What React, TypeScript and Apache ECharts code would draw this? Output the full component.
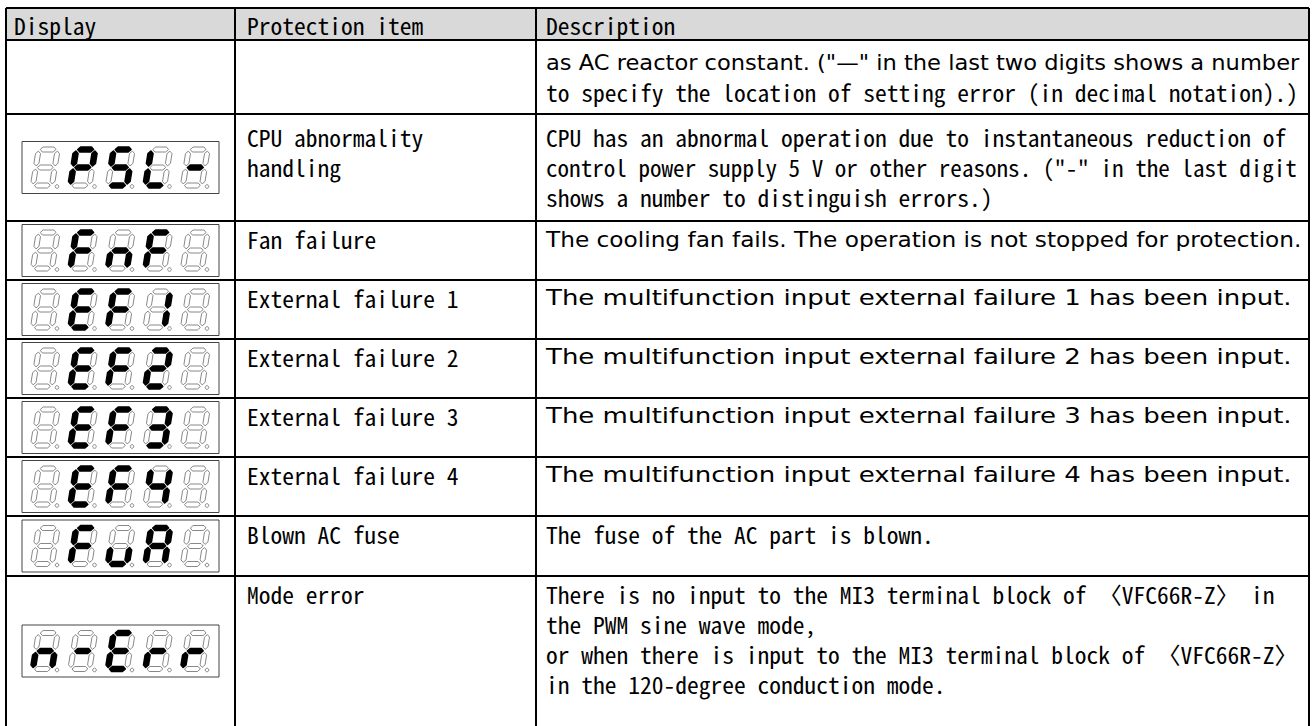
import React, { useEffect, useRef } from "react";
import * as echarts from "echarts";

// ---------- data ----------
const headers = ["Display", "Protection item", "Description"];

const displayCodes = ["", " PSL-", " FnF ", " EF1 ", " EF2 ", " EF3 ", " EF4 ", " FuA ", "n-Err"];

const protectionItems = [
  [],
  ["CPU abnormality", "handling"],
  ["Fan failure"],
  ["External failure 1"],
  ["External failure 2"],
  ["External failure 3"],
  ["External failure 4"],
  ["Blown AC fuse"],
  ["Mode error"],
];

const descriptions = [
  [
    'as AC reactor constant. ("—" in the last two digits shows a number',
    "to specify the location of setting error (in decimal notation).)",
  ],
  [
    "CPU has an abnormal operation due to instantaneous reduction of",
    'control power supply 5 V or other reasons. ("-" in the last digit',
    "shows a number to distinguish errors.)",
  ],
  ["The cooling fan fails. The operation is not stopped for protection."],
  ["The multifunction input external failure 1 has been input."],
  ["The multifunction input external failure 2 has been input."],
  ["The multifunction input external failure 3 has been input."],
  ["The multifunction input external failure 4 has been input."],
  ["The fuse of the AC part is blown."],
  [
    "There is no input to the MI3 terminal block of 〈VFC66R-Z〉 in",
    "the PWM sine wave mode,",
    "or when there is input to the MI3 terminal block of 〈VFC66R-Z〉",
    "in the 120-degree conduction mode.",
  ],
];

// ---------- layout ----------
const MONO = "'Noto Sans Mono CJK JP', 'DejaVu Sans Mono', monospace";
const PROP = "'DejaVu Sans', 'Noto Sans', sans-serif";
const MONO_SIZE = 23;
const PROP_SIZE = 22;
const CHAR_W = 11.75;
const LINE_H = 30;

const COLS = [6, 235, 536, 1309];
const TABLE_TOP = 8;
const ROW_BOUNDS = [40, 114, 221, 280, 339, 398, 457, 516, 576, 800];
// fitted lines: key "row-line" -> [font, right end x]
const FIT: Record<string, [string, number]> = {
  "0-0": [PROP, 1300],
  "1-1": [MONO, 1297],
  "2-0": [PROP, 1302],
  "3-0": [PROP, 1292],
  "4-0": [PROP, 1292],
  "5-0": [PROP, 1292],
  "6-0": [PROP, 1292],
};

const SEG: Record<string, string> = {
  " ": "",
  P: "abefg",
  S: "acdfg",
  L: "def",
  "-": "g",
  F: "aefg",
  n: "ceg",
  E: "adefg",
  "1": "bc",
  "2": "abdeg",
  "3": "abcdg",
  "4": "bcfg",
  u: "cde",
  A: "abcefg",
  r: "eg",
};

let ctx: CanvasRenderingContext2D | null = null;
function measure(s: string, fam: string, size: number) {
  if (!ctx) ctx = document.createElement("canvas").getContext("2d");
  ctx!.font = `${size}px ${fam}`;
  return ctx!.measureText(s).width;
}
function units(s: string) {
  let u = 0;
  for (const ch of s) {
    const c = ch.codePointAt(0)!;
    u += c >= 0x2e80 || c === 0x2014 ? 2 : 1;
  }
  return u;
}

function textEl(s: string, x: number, y: number, fam: string, targetW: number) {
  const size = fam === PROP ? PROP_SIZE : MONO_SIZE;
  const w = measure(s, fam, size);
  const sx = w > 0 ? targetW / w : 1;
  return {
    type: "text",
    x,
    y,
    scaleX: sx,
    silent: true,
    style: {
      text: s,
      x: 0,
      y: 0,
      fontSize: size,
      fontFamily: fam,
      fill: "#000",
      align: "left",
      verticalAlign: "middle",
    },
  };
}

function monoText(s: string, x: number, y: number) {
  return textEl(s, x, y, MONO, units(s) * CHAR_W);
}

function digitEls(ox: number, oy: number, ch: string) {
  const W = 24,
    H = 41,
    t = 5,
    g = 1.6,
    k = 0.16;
  const sh = (x: number, y: number) => [ox + x + (H - y) * k, oy + y];
  const hor = (yc: number) => {
    const xa = t / 2 + g,
      xb = W - t / 2 - g;
    return [
      sh(xa, yc),
      sh(xa + t / 2, yc - t / 2),
      sh(xb - t / 2, yc - t / 2),
      sh(xb, yc),
      sh(xb - t / 2, yc + t / 2),
      sh(xa + t / 2, yc + t / 2),
    ];
  };
  const ver = (xc: number, ya: number, yb: number) => [
    sh(xc, ya),
    sh(xc + t / 2, ya + t / 2),
    sh(xc + t / 2, yb - t / 2),
    sh(xc, yb),
    sh(xc - t / 2, yb - t / 2),
    sh(xc - t / 2, ya + t / 2),
  ];
  const segs: Record<string, number[][]> = {
    a: hor(t / 2),
    g: hor(H / 2),
    d: hor(H - t / 2),
    f: ver(t / 2, t / 2 + g, H / 2 - g),
    e: ver(t / 2, H / 2 + g, H - t / 2 - g),
    b: ver(W - t / 2, t / 2 + g, H / 2 - g),
    c: ver(W - t / 2, H / 2 + g, H - t / 2 - g),
  };
  const on = SEG[ch] || "";
  const els: any[] = [];
  for (const key of "abcdefg") {
    const active = on.includes(key);
    els.push({
      type: "polygon",
      silent: true,
      shape: { points: segs[key] },
      style: active
        ? { fill: "#000", stroke: "#000", lineWidth: 1.6, lineJoin: "round" }
        : { fill: "#fff", stroke: "#7a7a7a", lineWidth: 0.9 },
    });
  }
  els.push({
    type: "circle",
    silent: true,
    shape: { cx: ox + W + 3, cy: oy + H - 1.5, r: 1.8 },
    style: { fill: "#fff", stroke: "#7a7a7a", lineWidth: 0.9 },
  });
  return els;
}

function buildGraphic() {
  const els: any[] = [];
  const [c0, c1, c2, c3] = COLS;
  const headerBottom = ROW_BOUNDS[0];
  // header
  els.push({
    type: "rect",
    silent: true,
    shape: { x: c0, y: TABLE_TOP, width: c3 - c0, height: headerBottom - TABLE_TOP },
    style: { fill: "#d9d9d9" },
  });
  const hy = (TABLE_TOP + headerBottom) / 2 + 1;
  const pads = [8, 12, 10];
  headers.forEach((h, i) => els.push(monoText(h, COLS[i] + pads[i], hy)));

  // rows
  for (let r = 0; r < descriptions.length; r++) {
    const top = ROW_BOUNDS[r];
    const bottom = ROW_BOUNDS[r + 1];
    const lines = descriptions[r];
    let firstY: number;
    if (r <= 1) {
      const mid = (top + bottom) / 2;
      firstY = mid - ((lines.length - 1) * LINE_H) / 2;
    } else {
      firstY = top + 18;
    }
    lines.forEach((ln, li) => {
      const y = firstY + li * LINE_H;
      const fit = FIT[`${r}-${li}`];
      const x = c2 + 10;
      if (fit) els.push(textEl(ln, x, y, fit[0], fit[1] - x));
      else els.push(monoText(ln, x, y));
    });
    protectionItems[r].forEach((ln, li) => {
      els.push(monoText(ln, c1 + 12, firstY + li * LINE_H));
    });
    // display
    const code = displayCodes[r];
    if (code) {
      const bh = 52,
        bw = 197,
        bx = 22;
      const cy = r === descriptions.length - 1 ? top + 75 : (top + bottom) / 2;
      const by = cy - bh / 2;
      els.push({
        type: "rect",
        silent: true,
        shape: { x: bx, y: by, width: bw, height: bh },
        style: { fill: "#fff", stroke: "#444", lineWidth: 1 },
      });
      for (let i = 0; i < 5; i++) {
        els.push(...digitEls(bx + 8 + i * 37.5, by + 5.5, code[i] || " "));
      }
    }
  }

  // grid lines
  const line = (x1: number, y1: number, x2: number, y2: number, w: number) => ({
    type: "line",
    silent: true,
    shape: { x1, y1, x2, y2 },
    style: { stroke: "#000", lineWidth: w },
  });
  const bottomY = 800;
  els.push(line(c0, TABLE_TOP, c3, TABLE_TOP, 2));
  for (let r = 0; r < ROW_BOUNDS.length - 1; r++) {
    els.push(line(c0, ROW_BOUNDS[r], c3, ROW_BOUNDS[r], 2));
  }
  COLS.forEach((x) => els.push(line(x, TABLE_TOP, x, bottomY, 2)));
  return els;
}

export default function App() {
  const ref = useRef<HTMLDivElement>(null);
  useEffect(() => {
    document.body.style.margin = "0";
    const chart = echarts.init(ref.current!, undefined, { renderer: "svg" });
    chart.setOption({
      animation: false,
      backgroundColor: "#fff",
      graphic: { elements: buildGraphic() },
    });
    return () => chart.dispose();
  }, []);
  return <div ref={ref} style={{ width: 1316, height: 726 }} />;
}
